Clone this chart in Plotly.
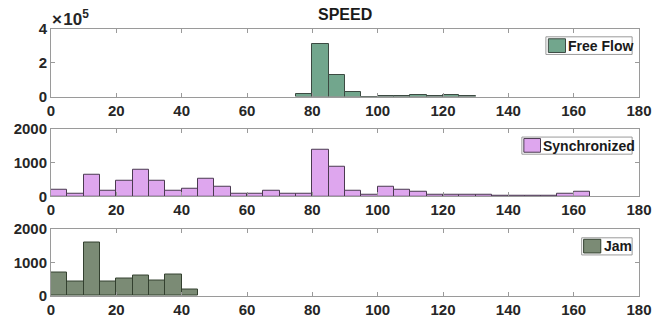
import plotly.graph_objects as go
from plotly.subplots import make_subplots

bin_width = 5
free_flow_left = [75, 80, 85, 90, 95, 100, 105, 110, 115, 120, 125]
free_flow_counts = [15000, 310000, 126000, 29000, 0, 2500, 1500, 7000, 2500, 7000, 2000]

sync_left = list(range(0, 165, 5))
sync_counts = [180, 85, 645, 150, 460, 780, 460, 170, 225, 515, 285, 80, 80, 150, 80, 80,
               1385, 880, 150, 30, 285, 205, 140, 40, 50, 30, 30, 12, 12, 12, 12, 80, 130]

jam_left = [0, 5, 10, 15, 20, 25, 30, 35, 40]
jam_counts = [705, 440, 1590, 440, 525, 615, 470, 635, 185]

x_ticks = [0, 20, 40, 60, 80, 100, 120, 140, 160, 180]

c_free = "#72a68d"
c_sync = "#dea6ee"
c_jam = "#7b8b75"

W, H = 664, 330
ML, MR, MT, MB = 51, 13, 29, 28

fig = make_subplots(rows=3, cols=1, vertical_spacing=0.121)

def centers(lefts):
    return [l + bin_width / 2 for l in lefts]

series = [
    ("Free Flow", free_flow_left, free_flow_counts, c_free, "#3c4a42"),
    ("Synchronized", sync_left, sync_counts, c_sync, "#4a3a50"),
    ("Jam", jam_left, jam_counts, c_jam, "#33402f"),
]
for i, (name, lefts, counts, col, ec) in enumerate(series):
    fig.add_trace(go.Bar(x=centers(lefts), y=counts, width=bin_width,
                         marker=dict(color=col, line=dict(color=ec, width=1)),
                         name=name, showlegend=False), row=i + 1, col=1)

tickfont = dict(family="Liberation Sans, Arial", size=15, color="#262626")
axis_common = dict(showline=True, linecolor="#9a9a9a", linewidth=1, mirror="ticks",
                   ticks="inside", ticklen=4, tickcolor="#9a9a9a", showgrid=False,
                   zeroline=False, tickfont=tickfont)

for r in (1, 2, 3):
    fig.update_xaxes(range=[0, 180], tickvals=x_ticks, ticktext=[f"<b>{t}</b>" for t in x_ticks],
                     **axis_common, row=r, col=1)

fig.update_yaxes(range=[0, 400000], tickvals=[0, 200000, 400000],
                 ticktext=["<b>0</b>", "<b>2</b>", "<b>4</b>"], **axis_common, row=1, col=1)
for r in (2, 3):
    fig.update_yaxes(range=[0, 2000], tickvals=[0, 1000, 2000],
                     ticktext=["<b>0</b>", "<b>1000</b>", "<b>2000</b>"], **axis_common, row=r, col=1)

fig.update_layout(yaxis=dict(domain=[0.747, 1.0]),
                  yaxis2=dict(domain=[0.3736, 0.6264]),
                  yaxis3=dict(domain=[0.0, 0.2527]))

# legend boxes (pixel layout converted to paper coords)
def px(x):
    return (x - ML) / (W - ML - MR)

def py(y):
    return (H - MB - y) / (H - MT - MB)

legend_boxes = [
    # name, colour, edge, box x0, x1, y0, y1, swatch x0, x1, y0, y1
    ("Free Flow", c_free, "#3c4a42", 556, 644, 37, 55, 558.5, 576, 39, 53),
    ("Synchronized", c_sync, "#4a3a50", 531.5, 644, 139.5, 157, 533.5, 550.5, 141, 155),
    ("Jam", c_jam, "#33402f", 592.5, 644, 242.5, 260, 594.5, 612, 244, 258),
]
for name, col, ec, bx0, bx1, by0, by1, sx0, sx1, sy0, sy1 in legend_boxes:
    fig.add_shape(type="rect", xref="paper", yref="paper", x0=px(bx0), x1=px(bx1),
                  y0=py(by1), y1=py(by0), fillcolor="white",
                  line=dict(color="#9a9a9a", width=1))
    fig.add_shape(type="rect", xref="paper", yref="paper", x0=px(sx0), x1=px(sx1),
                  y0=py(sy1), y1=py(sy0), fillcolor=col, line=dict(color=ec, width=1))
    fig.add_annotation(text=f"<b>{name}</b>", xref="paper", yref="paper",
                       x=px(sx1 + 1), y=py((by0 + by1) / 2), xanchor="left", yanchor="middle",
                       showarrow=False,
                       font=dict(family="Liberation Sans, Arial", size=14, color="#1a1a1a"))

fig.add_annotation(text="<b>SPEED</b>", x=0.5, y=1.0, xref="paper", yref="paper",
                   xanchor="center", yanchor="bottom", yshift=4, showarrow=False,
                   font=dict(family="Liberation Sans, Arial", size=16, color="#1a1a1a"))
fig.add_annotation(text="<b>×\u200a10<sup>5</sup></b>", x=0.0, y=1.0, xref="paper", yref="paper",
                   xanchor="left", yanchor="bottom", yshift=-2, xshift=-1, showarrow=False,
                   font=dict(family="Liberation Sans, Arial", size=17, color="#262626"))

fig.update_layout(width=W, height=H, margin=dict(l=ML, r=MR, t=MT, b=MB),
                  plot_bgcolor="white", paper_bgcolor="white", bargap=0, showlegend=False)

fig.write_html("out.html")
